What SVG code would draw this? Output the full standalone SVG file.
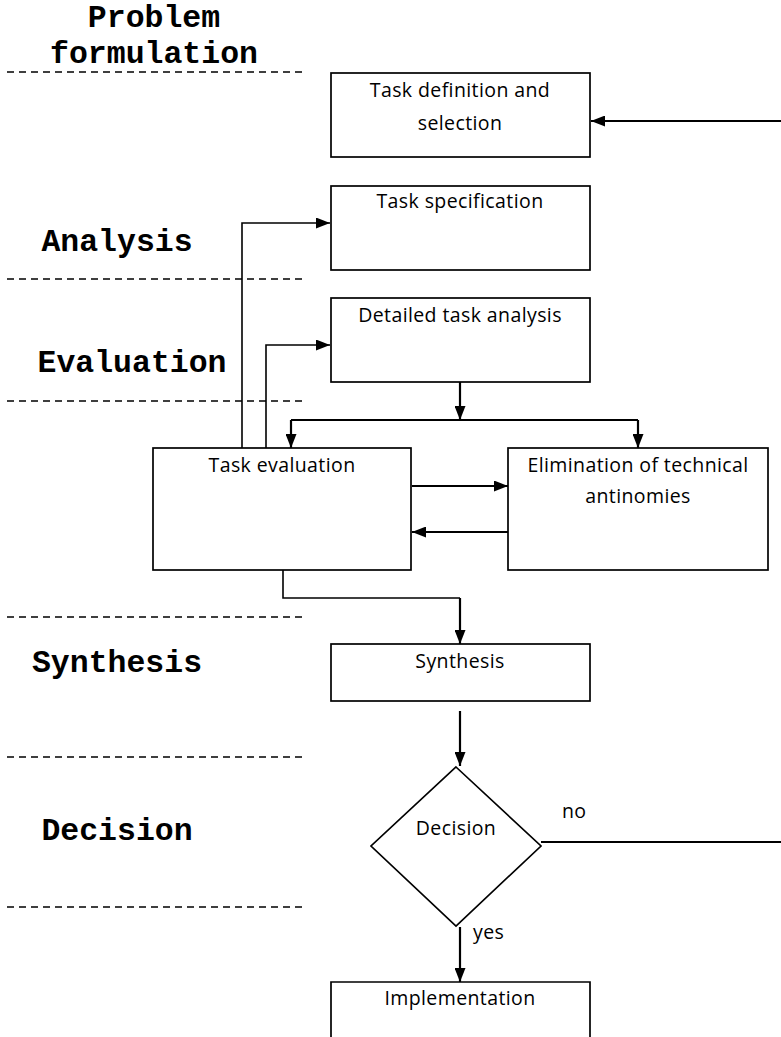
<svg xmlns="http://www.w3.org/2000/svg" width="781" height="1037" viewBox="0 0 781 1037">
<style>
.box{fill:#fff;stroke:#000;stroke-width:1.7}
.t{font-family:"Open Sans","Liberation Sans",sans-serif;font-size:19.5px;letter-spacing:0.4px;fill:#000;text-anchor:middle}
.lab{font-family:"Liberation Mono","Courier New",monospace;font-weight:bold;font-size:31.5px;fill:#000;text-anchor:middle}
.dash{stroke:#000;stroke-width:1.3;stroke-dasharray:7 5;fill:none}
.c{fill:none;stroke:#000;stroke-width:2.2}
.cl{fill:none;stroke:#000;stroke-width:1.6}
</style>
<defs>
<marker id="ah" markerWidth="14" markerHeight="11" refX="14" refY="5.5" orient="auto" markerUnits="userSpaceOnUse">
<path d="M0,0 L14,5.5 L0,11 Z" fill="#000"/>
</marker>
</defs>
<g id="lanes">
<line class="dash" x1="7" y1="72" x2="307" y2="72"/>
<line class="dash" x1="7" y1="279" x2="307" y2="279"/>
<line class="dash" x1="7" y1="401" x2="307" y2="401"/>
<line class="dash" x1="7" y1="617" x2="307" y2="617"/>
<line class="dash" x1="7" y1="757" x2="307" y2="757"/>
<line class="dash" x1="7" y1="907" x2="307" y2="907"/>
<text class="lab" x="154" y="27">Problem</text>
<text class="lab" x="154" y="63">formulation</text>
<text class="lab" x="117" y="251">Analysis</text>
<text class="lab" x="132" y="372">Evaluation</text>
<text class="lab" x="117" y="672">Synthesis</text>
<text class="lab" x="117" y="840">Decision</text>
</g>
<g id="connectors">
<line class="c" x1="781" y1="121" x2="591" y2="121" marker-end="url(#ah)"/>
<polyline class="cl" points="242,448 242,223 330,223" marker-end="url(#ah)"/>
<polyline class="cl" points="266,448 266,345 330,345" marker-end="url(#ah)"/>
<line class="c" x1="460" y1="382" x2="460" y2="420" marker-end="url(#ah)"/>
<polyline class="c" points="291,420 638,420"/>
<line class="c" x1="291" y1="420" x2="291" y2="448" marker-end="url(#ah)"/>
<line class="c" x1="638" y1="420" x2="638" y2="448" marker-end="url(#ah)"/>
<line class="c" x1="412" y1="486" x2="508" y2="486" marker-end="url(#ah)"/>
<line class="c" x1="508" y1="532" x2="412" y2="532" marker-end="url(#ah)"/>
<polyline class="cl" points="283,570 283,598 460,598"/>
<line class="c" x1="460" y1="598" x2="460" y2="644" marker-end="url(#ah)"/>
<line class="c" x1="460" y1="711" x2="460" y2="766" marker-end="url(#ah)"/>
<line class="c" x1="541" y1="842" x2="781" y2="842"/>
<text class="t" x="562" y="818" style="text-anchor:start">no</text>
<line class="c" x1="460" y1="927" x2="460" y2="982" marker-end="url(#ah)"/>
<text class="t" x="473" y="939" style="text-anchor:start">yes</text>
</g>
<g id="n1"><rect class="box" x="331" y="73" width="259" height="84"/>
<text class="t" x="460" y="97">Task definition and</text><text class="t" x="460" y="130">selection</text></g>
<g id="n2"><rect class="box" x="331" y="186" width="259" height="84"/>
<text class="t" x="460" y="208">Task specification</text></g>
<g id="n3"><rect class="box" x="331" y="298" width="259" height="84"/>
<text class="t" x="460" y="322">Detailed task analysis</text></g>
<g id="n4"><rect class="box" x="153" y="448" width="258" height="122"/>
<text class="t" x="282" y="472">Task evaluation</text></g>
<g id="n5"><rect class="box" x="508" y="448" width="260" height="122"/>
<text class="t" x="638" y="472">Elimination of technical</text><text class="t" x="638" y="503">antinomies</text></g>
<g id="n6"><rect class="box" x="331" y="644" width="259" height="57"/>
<text class="t" x="460" y="668">Synthesis</text></g>
<g id="n7"><polygon class="box" points="456,767 541,846 456,926 371,846"/>
<text class="t" x="456" y="835">Decision</text></g>
<g id="n8"><path class="box" d="M331,1040 V982 H590 V1040"/>
<text class="t" x="460" y="1005">Implementation</text></g>
</svg>
